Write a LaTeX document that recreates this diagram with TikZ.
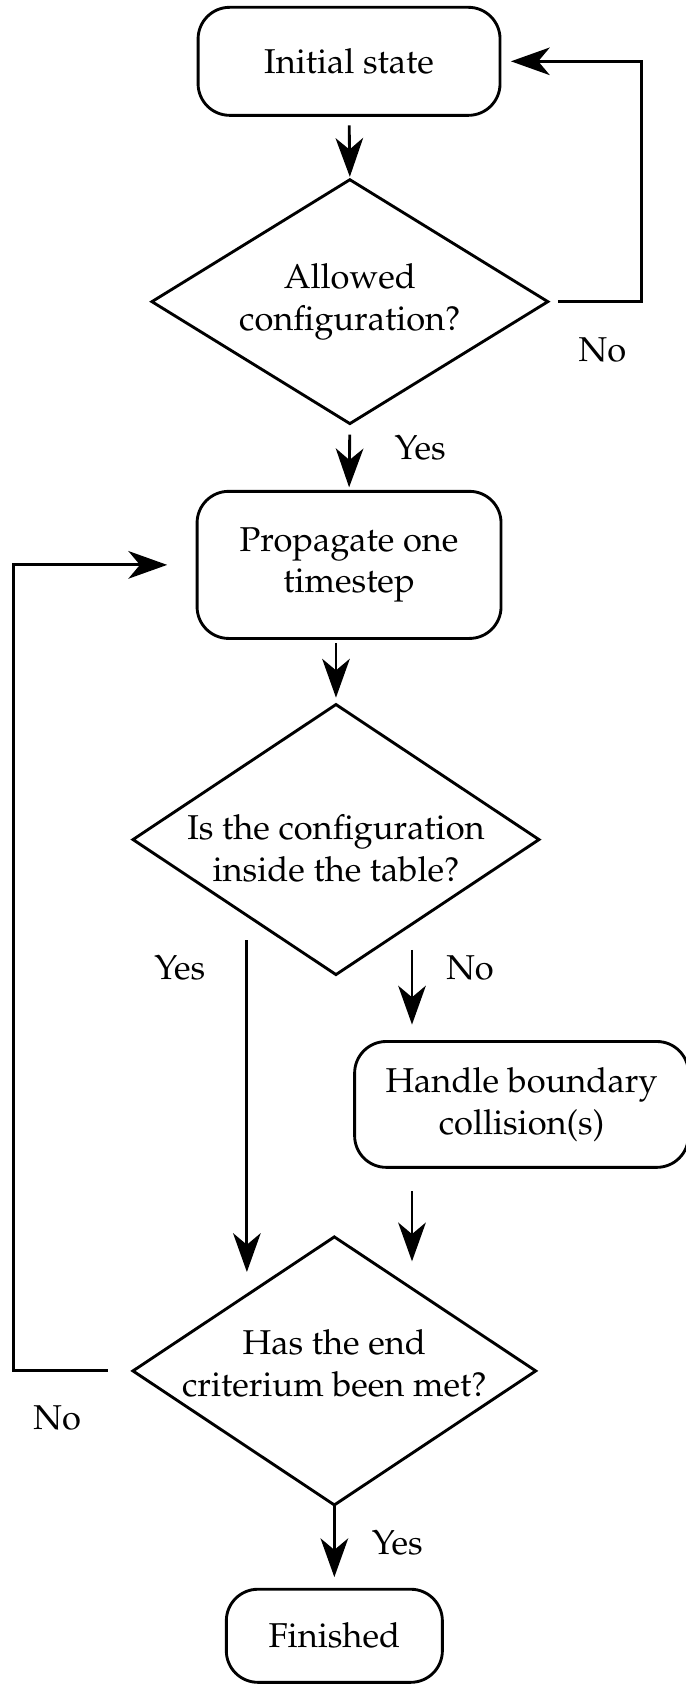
\documentclass[tikz,border=0pt]{standalone}
\usepackage[T1]{fontenc}
\usepackage{mathpazo}
\usepackage{tikz}
\usetikzlibrary{arrows.meta}
\usetikzlibrary{shapes.geometric}

\tikzset{
  procbox/.style={draw, line width=1pt, rounded corners=11pt, align=center, inner sep=0pt, outer sep=0pt},
  decbox/.style={draw, diamond, aspect=1.5, line width=1pt, align=center, inner sep=-3pt, outer sep=0pt},
  flow/.style={line width=1pt, -{Stealth[length=13.5pt,width=9.6pt,inset=4pt]}},
  lbl/.style={inner sep=0pt}
}

\begin{document}
\begin{tikzpicture}[font=\fontsize{12}{14.6}\selectfont]
        \useasboundingbox (0,0) rectangle (8.38,-20.60);
        % boxes and decisions
        \node[procbox, minimum width=105.1pt, minimum height=37.6pt] (init) at (4.27,-0.75) {Initial state};
        \node[decbox, minimum width=137.8pt, minimum height=84.9pt] (allowed) at (4.28,-3.69) {Allowed\\configuration?};
        \node[procbox, minimum width=105.8pt, minimum height=51.2pt] (prop) at (4.27,-6.91) {Propagate one\\timestep};
        \node[decbox, minimum width=141.3pt, minimum height=94pt] (inside) at (4.11,-10.27) {\rule{0pt}{14.8pt}Is the configuration\\inside the table?};
        \node[procbox, minimum width=116.2pt, minimum height=43.8pt] (handle) at (6.38,-13.51) {Handle boundary\\collision(s)};
        \node[decbox, minimum width=140.2pt, minimum height=93.3pt] (endcrit) at (4.09,-16.77) {Has the end\\criterium been met?\rule[-5.5pt]{0pt}{5.5pt}};
        \node[procbox, minimum width=75.2pt, minimum height=32.4pt] (fin) at (4.09,-20.01) {Finished};
        % free ends of the connectors
        \coordinate (loopR) at (7.85,0);
        \coordinate (loopL) at (0.17,0);
        \coordinate (yesTop) at (3.02,-11.50);
        \coordinate (yesBot) at (3.02,-15.56);
        \coordinate (noTop) at (5.04,-11.62);
        \coordinate (hcBot) at (5.04,-15.43);
        % connectors
        \draw[flow, shorten <=3.5pt, shorten >=1pt] (init.south) -- (allowed.north);
        \draw[flow, shorten <=3.5pt, shorten >=3.8pt] (allowed.east) -- (allowed.east -| loopR) |- (init.east);
        \draw[flow, shorten <=3.8pt, shorten >=1.4pt] (allowed.south) -- (prop.north);
        \draw[flow, shorten <=1.7pt, shorten >=2.4pt] (inside.north |- prop.south) -- (inside.north);
        \draw[flow] (yesTop) -- (yesBot);
        \draw[flow, shorten >=5.9pt] (noTop) -- (noTop |- handle.north);
        \draw[flow, shorten <=8.4pt] (noTop |- handle.south) -- (hcBot);
        \draw[flow, shorten <=8.7pt, shorten >=10.4pt] (endcrit.west) -- (endcrit.west -| loopL) |- (prop.west);
        \draw[flow, shorten >=4.2pt] (endcrit.south) -- (fin.north);
        % labels
        \node[lbl] (no1) at (7.37,-4.28) {No};
        \node[lbl] (yes1) at (5.14,-5.48) {Yes};
        \node[lbl] (yes2) at (2.20,-11.84) {Yes};
        \node[lbl] (no2) at (5.75,-11.84) {No};
        \node[lbl] (no3) at (0.70,-17.34) {No};
        \node[lbl] (yes3) at (4.86,-18.87) {Yes};
\end{tikzpicture}
\end{document}
